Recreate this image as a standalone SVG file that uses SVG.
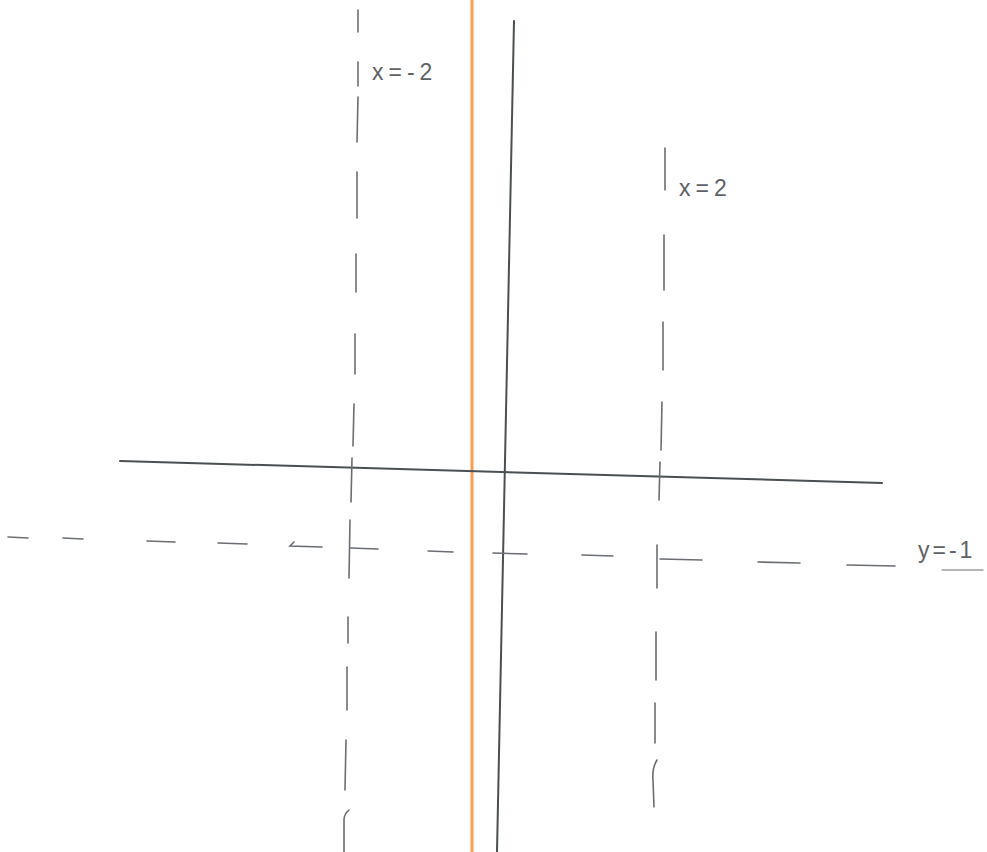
<svg xmlns="http://www.w3.org/2000/svg" width="987" height="852" viewBox="0 0 987 852">
<style>
.axis{stroke:#4a4f52;stroke-width:2;fill:none;stroke-linecap:round}
.dash{stroke:#6a6e72;stroke-width:1.6;fill:none;stroke-linecap:round}
.lbl{font-family:"Liberation Sans",Arial,sans-serif;font-size:23px;fill:#5e6266;letter-spacing:5px}
</style>
<rect width="987" height="852" fill="#ffffff"/>
<g id="orange-line">
<line x1="472" y1="0" x2="472" y2="852" stroke="#f7a154" stroke-width="3"/>
</g>
<g id="axes">
<line class="axis" x1="120" y1="461" x2="882" y2="483"/>
<line class="axis" x1="514" y1="21" x2="497" y2="852"/>
</g>
<g id="x-minus-2">
<g class="dash">
<line x1="358" y1="10" x2="358" y2="32"/>
<line x1="358" y1="62" x2="358" y2="86"/>
<line x1="358" y1="97" x2="357" y2="142"/>
<line x1="357" y1="172" x2="357" y2="218"/>
<line x1="356" y1="254" x2="356" y2="292"/>
<line x1="355" y1="334" x2="355" y2="374"/>
<line x1="354" y1="404" x2="353" y2="446"/>
<line x1="352" y1="458" x2="351" y2="502"/>
<line x1="350" y1="520" x2="349" y2="578"/>
<line x1="348" y1="617" x2="348" y2="643"/>
<line x1="347" y1="667" x2="347" y2="710"/>
<line x1="346" y1="740" x2="345" y2="790"/>
<path d="M349 810 Q344 814 344 820 L344 852"/>
</g>
<text class="lbl" x="372" y="80">x=-2</text>
</g>
<g id="x-2">
<g class="dash">
<line x1="665" y1="148" x2="665" y2="190"/>
<line x1="664" y1="235" x2="664" y2="290"/>
<line x1="663" y1="322" x2="663" y2="370"/>
<line x1="662" y1="402" x2="661" y2="450"/>
<line x1="660" y1="462" x2="659" y2="500"/>
<line x1="657" y1="545" x2="657" y2="588"/>
<line x1="656" y1="632" x2="656" y2="680"/>
<line x1="655" y1="703" x2="655" y2="743"/>
<path d="M657 760 Q652 768 653 780 L654 807"/>
</g>
<text class="lbl" x="679" y="196">x=2</text>
</g>
<g id="y-minus-1">
<g class="dash">
<line x1="8" y1="537" x2="28" y2="538"/>
<line x1="63" y1="538" x2="83" y2="539"/>
<line x1="147" y1="541" x2="175" y2="542"/>
<line x1="218" y1="543" x2="247" y2="544"/>
<path d="M294 542 L290 546 L322 547"/>
<line x1="350" y1="548" x2="378" y2="549"/>
<line x1="428" y1="551" x2="453" y2="552"/>
<line x1="493" y1="553" x2="527" y2="554"/>
<line x1="582" y1="555" x2="613" y2="556"/>
<line x1="660" y1="559" x2="702" y2="560"/>
<line x1="758" y1="562" x2="800" y2="563"/>
<line x1="847" y1="565" x2="895" y2="566"/>
<line x1="942" y1="570" x2="983" y2="570" stroke-width="1.2"/>
</g>
<text class="lbl" x="918" y="558" style="letter-spacing:3px">y=-1</text>
</g>
</svg>
